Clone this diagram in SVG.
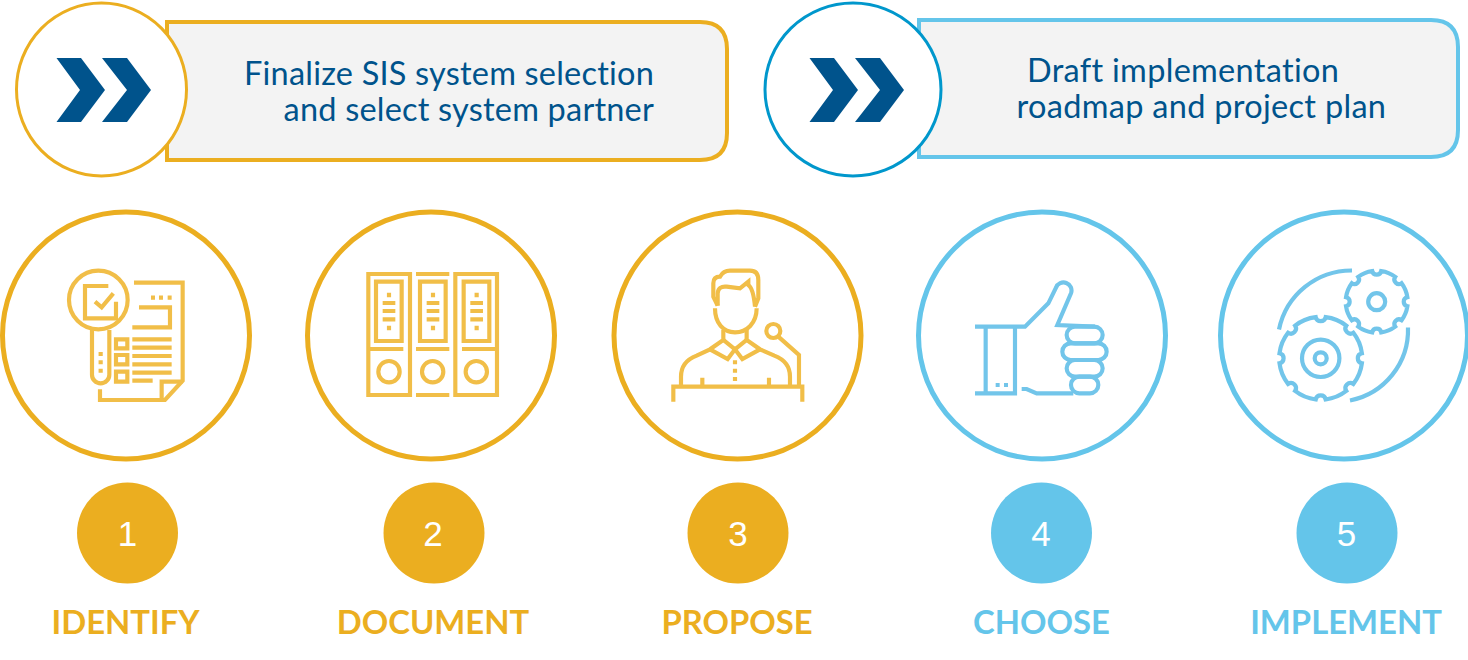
<svg xmlns="http://www.w3.org/2000/svg" width="1468" height="660" viewBox="0 0 1468 660">
<style>
.bg{fill:#fff}
.box{fill:#f3f3f3;stroke-width:4}
.ring{fill:#fff;stroke-width:3}
.big{fill:#fff;stroke-width:5}
.gold{stroke:#ebae20}.blue{stroke:#64c5ea}.dblue{stroke:#0097cc}
.gf{fill:#ebae20}.bf{fill:#64c5ea}
.chev{fill:#00538c}
.hd{font-family:Lato,"Liberation Sans",sans-serif;font-size:32.500px;fill:#00538c}
.hl{letter-spacing:.2px}
.hr{letter-spacing:.3px}
.num{font-family:"Liberation Sans",Arial,sans-serif;font-size:35px;fill:#fff;text-anchor:middle}
.lab{font-family:Lato,"Liberation Sans",sans-serif;font-size:32.800px;font-weight:700;text-anchor:middle}
.lg{fill:#ebae20}.lb{fill:#64c5ea}
.ic{fill:none;stroke-width:12.500}
.icg{stroke:#f1be48}.icb{stroke:#72c5ea}
.px{fill:none;stroke:#72c5ea;stroke-width:4.200}
</style>
<defs>
<g id="chevrons"><polygon class="chev" points="56.500,58 81,58 105,90 81,122 56.500,122 80,90"/><polygon class="chev" points="102,58 127,58 151,90 127,122 102,122 127,90"/></g>
<path id="gearS" d="M30.67 4.5A31 31 0 0 1 24.88 18.49A4.6 4.6 0 0 0 18.49 24.88A31 31 0 0 1 4.5 30.67A4.6 4.6 0 0 0 -4.5 30.67A31 31 0 0 1 -18.49 24.88A4.6 4.6 0 0 0 -24.88 18.49A31 31 0 0 1 -30.67 4.5A4.6 4.6 0 0 0 -30.67 -4.5A31 31 0 0 1 -24.88 -18.49A4.6 4.6 0 0 0 -18.49 -24.88A31 31 0 0 1 -4.5 -30.67A4.6 4.6 0 0 0 4.5 -30.67A31 31 0 0 1 18.49 -24.88A4.6 4.6 0 0 0 24.88 -18.49A31 31 0 0 1 30.67 -4.5A4.6 4.6 0 0 0 30.67 4.5Z"/>
<path id="gearL" d="M41.2 5A41.5 41.5 0 0 1 32.67 25.59A5.1 5.1 0 0 0 25.59 32.67A41.5 41.5 0 0 1 5 41.2A5.1 5.1 0 0 0 -5 41.2A41.5 41.5 0 0 1 -25.59 32.67A5.1 5.1 0 0 0 -32.67 25.59A41.5 41.5 0 0 1 -41.2 5A5.1 5.1 0 0 0 -41.2 -5A41.5 41.5 0 0 1 -32.67 -25.59A5.1 5.1 0 0 0 -25.59 -32.67A41.5 41.5 0 0 1 -5 -41.2A5.1 5.1 0 0 0 5 -41.2A41.5 41.5 0 0 1 25.59 -32.67A5.1 5.1 0 0 0 32.67 -25.59A41.5 41.5 0 0 1 41.2 -5A5.1 5.1 0 0 0 41.2 5Z"/>
<g id="binderInner"><path d="M0 0H77V178H0Z"/><path d="M39 33V47M20 64H58M20 88H58M20 113H58M39 132V146"/></g>
</defs>
<rect class="bg" width="1468" height="660"/>

<g id="callout-left">
<path class="box gold" d="M167 22H700Q727 22 727 49V133Q727 160 700 160H167Z"/>
<ellipse class="ring gold" cx="101.500" cy="89.500" rx="85" ry="86.500"/>
<use href="#chevrons"/>
<text class="hd hl" x="654" y="85" text-anchor="end">Finalize SIS system selection</text>
<text class="hd hl" x="654" y="121" text-anchor="end">and select system partner</text>
</g>

<g id="callout-right">
<path class="box blue" d="M919 20H1431Q1458 20 1458 47V130Q1458 157 1431 157H919Z"/>
<ellipse class="ring dblue" cx="853" cy="89.500" rx="88" ry="86.500"/>
<use href="#chevrons" x="753"/>
<text class="hd hr" x="1027" y="82">Draft implementation</text>
<text class="hd hr" x="1016.500" y="118">roadmap and project plan</text>
</g>

<g id="step-1">
<circle class="big gold" cx="126" cy="335.500" r="123.500"/>
<g class="ic icg" transform="translate(40 250) scale(.3333)">
<circle cx="175" cy="150" r="88"/>
<path d="M156 240V374A26 26 0 0 0 208 374V240"/>
<path d="M182 306V318M182 331V343M182 356V368"/>
<path d="M205 108H135V205H228V155M165 155L185 172L220 130"/>
<path d="M282 98H428V392L375 450H180V418"/>
<path d="M428 395H365V450M333 143H345M357 143H369M383 143H395"/>
<path d="M297 172H390V232H277"/>
<path d="M277 268H395M277 293H395M277 318H395M277 343H395M277 368H395M277 392H338"/>
<path d="M228 268H262V295H228ZM228 315H262V343H228ZM228 365H262V395H228Z"/>
</g>
<circle class="gf" cx="127.500" cy="533" r="50.500"/>
<text class="num" x="127.500" y="546">1</text>
<text class="lab lg" x="125.500" y="634">IDENTIFY</text>
</g>

<g id="step-2">
<circle class="big gold" cx="431" cy="335.500" r="123.500"/>
<g class="ic icg" transform="translate(350 255) scale(.3333)">
<path d="M55 57H180V420H55ZM55 282H160"/>
<path d="M198 57H298M198 282H298M198 420H298"/>
<path d="M316 57H441V420H316ZM336 282H441"/>
<use href="#binderInner" x="78" y="80"/>
<use href="#binderInner" x="210" y="80"/>
<use href="#binderInner" x="341" y="80"/>
<circle cx="117" cy="350" r="32"/><circle cx="248" cy="350" r="32"/><circle cx="379" cy="350" r="32"/>
</g>
<circle class="gf" cx="434" cy="533" r="50.500"/>
<text class="num" x="433" y="546">2</text>
<text class="lab lg" x="433" y="634">DOCUMENT</text>
</g>

<g id="step-3">
<circle class="big gold" cx="737.500" cy="335.500" r="123.500"/>
<g class="ic icg" transform="translate(655 255) scale(.3333)">
<path d="M55 440V395H442V440"/>
<circle cx="355" cy="228" r="21"/>
<path d="M370 245L432 300V395"/>
<path d="M78 395V365Q78 320 125 302L165 283L205 255V225M405 395V365Q405 320 358 302L315 283L275 255V225"/>
<path d="M205 255L240 283L275 255M165 283L218 312L240 283L262 312L315 283"/>
<path d="M142 368V395M342 368V395M240 316V328M240 341V353M240 366V378"/>
<path d="M180 160C180 205 205 232 240 232C275 232 305 205 305 160"/>
<path d="M188 152L175 125V85Q175 65 195 65Q205 47 225 47H285Q310 47 310 75V130L300 155"/>
<path d="M188 152V115Q190 92 215 95L255 100L280 80V90Q295 100 300 155"/>
</g>
<circle class="gf" cx="738" cy="533" r="50.500"/>
<text class="num" x="738" y="546">3</text>
<text class="lab lg" x="737" y="634">PROPOSE</text>
</g>

<g id="step-4">
<circle class="big blue" cx="1042" cy="335.500" r="123.500"/>
<g class="ic icb" transform="translate(960 265) scale(.3333)">
<path d="M45 185H195L265 115L288 68A24 24 0 0 1 333 85L292 180L405 185"/>
<path d="M45 385H165V185M77 185V385M107 360H119M132 360H144"/>
<path d="M185 372H200L230 385H340"/>
<rect x="320" y="185" width="108" height="50" rx="25"/>
<rect x="307" y="235" width="133" height="50" rx="25"/>
<rect x="320" y="285" width="108" height="50" rx="25"/>
<rect x="333" y="335" width="82" height="50" rx="25"/>
</g>
<circle class="bf" cx="1041.500" cy="533" r="50.500"/>
<text class="num" x="1041" y="546">4</text>
<text class="lab lb" x="1041.500" y="634">CHOOSE</text>
</g>

<g id="step-5">
<circle class="big blue" cx="1344" cy="335.500" r="123.500"/>
<use class="px" href="#gearS" x="1376.700" y="301.700"/>
<use class="px" href="#gearL" x="1320.700" y="358.300"/>
<circle class="px" cx="1376.700" cy="301.700" r="8.500"/>
<circle class="px" cx="1320.700" cy="358.300" r="18.700"/>
<circle class="px" cx="1320.700" cy="358.300" r="6"/>
<path class="px" d="M1352 270.500A74 74 0 0 0 1279 329.500M1408 327.500A72 72 0 0 1 1350 400.500"/>
<circle class="bf" cx="1347" cy="533" r="50.500"/>
<text class="num" x="1346.500" y="546">5</text>
<text class="lab lb" x="1346" y="634">IMPLEMENT</text>
</g>
</svg>
